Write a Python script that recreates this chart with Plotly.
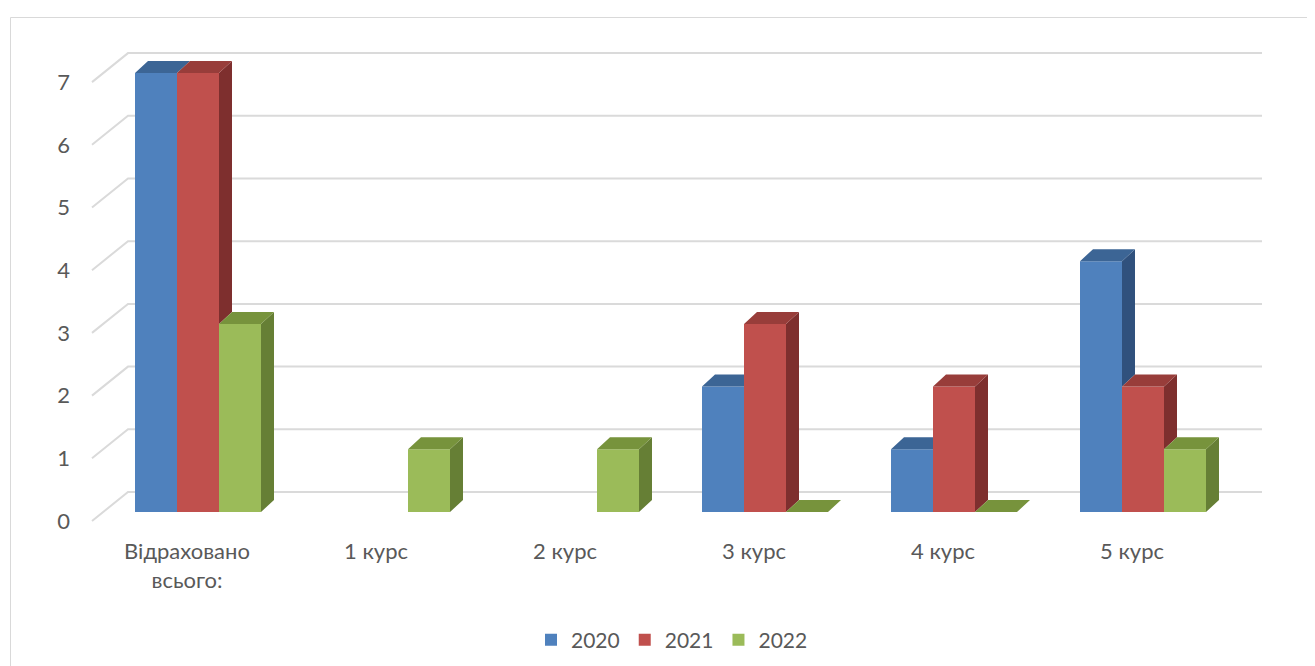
import plotly.graph_objects as go

# ---- data ----
categories = ["Відраховано<br>всього:", "1 курс", "2 курс", "3 курс", "4 курс", "5 курс"]
years = ["2020", "2021", "2022"]
values_2020 = [7, None, None, 2, 1, 4]
values_2021 = [7, None, None, 3, 2, 2]
values_2022 = [3, 1, 1, 0, 0, 1]
y_ticks = [0, 1, 2, 3, 4, 5, 6, 7]

series = [values_2020, values_2021, values_2022]
front_colors = ["#4F81BD", "#C0504D", "#9BBB59"]
top_colors = ["#3C6595", "#983D3A", "#77933C"]
side_colors = ["#30517D", "#7E2F2E", "#667F35"]

# page body margin offset (px) -> figure is drawn 8px right/down of the window origin
OFF = 8
W, H = 1315 - OFF, 666 - OFF
# plot area in window pixels
PL, PR, PT, PB = 80, 1280, 40, 530
ML, MT = PL - OFF, PT - OFF
MR, MB = W - (PR - OFF), H - (PB - OFF)

# pixel mapping of the bar plane (window px), used to convert 3D depth offsets
PX0, PXU = 198.0, 189.0
PY0, PYU = 512.0, 62.7
xr = [(PL - PX0) / PXU, (PR - PX0) / PXU]
yr = [(PY0 - PB) / PYU, (PY0 - PT) / PYU]

DX = 13 / PXU      # bar depth offset (category units)
DY = 12 / PYU      # bar depth offset (value units)
BACK_DY = 20 / PYU  # back wall offset
FRONT_DY = -9 / PYU
FRONT_X = (92 - PX0) / PXU
BACK_X0 = (128 - PX0) / PXU
BACK_X1 = (1262 - PX0) / PXU

bargap = 1 / 3
bw = (1 - bargap) / len(series)

fig = go.Figure()

# front faces
for s, vals in enumerate(series):
    fig.add_trace(go.Bar(x=list(range(len(categories))), y=vals, name=years[s],
                         marker=dict(color=front_colors[s], line=dict(width=0))))

# top and side faces
for s, vals in enumerate(series):
    tx, ty, sx, sy = [], [], [], []
    for k, v in enumerate(vals):
        if v is None:
            continue
        x0 = k - 0.5 + bargap / 2 + s * bw
        x1 = x0 + bw
        nxt = series[s + 1][k] if s + 1 < len(series) else None
        w = nxt if nxt is not None else 0
        if nxt is not None and nxt > v:
            tx += [x0, x1, x1, x0 + DX, x0, None]
            ty += [v, v, v + DY, v + DY, v, None]
        else:
            tx += [x0, x1, x1 + DX, x0 + DX, x0, None]
            ty += [v, v, v + DY, v + DY, v, None]
        if v > w:
            sx += [x1, x1, x1 + DX, x1 + DX, x1, None]
            sy += [w, v, v + DY, w + DY, w, None]
    fig.add_trace(go.Scatter(x=sx, y=sy, mode="lines", fill="toself", fillcolor=side_colors[s],
                             line=dict(width=0, color=side_colors[s]), hoverinfo="skip", showlegend=False))
    fig.add_trace(go.Scatter(x=tx, y=ty, mode="lines", fill="toself", fillcolor=top_colors[s],
                             line=dict(width=0, color=top_colors[s]), hoverinfo="skip", showlegend=False))

pw, ph = W - ML - MR, H - MT - MB
def px2paper_x(px):
    return (px - PL) / pw
def px2paper_y(py):
    return (PB - py) / ph

shapes = []
for t in y_ticks:
    shapes.append(dict(type="path", xref="x", yref="y", layer="below",
                       path="M %f,%f L %f,%f L %f,%f" % (FRONT_X, t + FRONT_DY, BACK_X0, t + BACK_DY,
                                                         BACK_X1, t + BACK_DY),
                       line=dict(color="#DADADA", width=2)))
shapes.append(dict(type="path", xref="paper", yref="paper", layer="below",
                   path="M %f %f L %f %f L %f %f" % (px2paper_x(10.5), px2paper_y(700),
                                                     px2paper_x(10.5), px2paper_y(17.5),
                                                     px2paper_x(1400), px2paper_y(17.5)),
                   line=dict(color="#D9D9D9", width=1)))

font = dict(family="Lato, Carlito, Calibri, sans-serif", size=22, color="#595959")

fig.update_layout(
    width=W, height=H,
    margin=dict(l=ML, r=MR, t=MT, b=MB, autoexpand=False),
    paper_bgcolor="white", plot_bgcolor="white",
    barmode="group", bargap=bargap, bargroupgap=0,
    font=font,
    showlegend=True,
    legend=dict(orientation="h", x=px2paper_x(672), xanchor="center", y=px2paper_y(640), yanchor="middle",
                font=dict(family=font["family"], size=21, color=font["color"]),
                traceorder="normal", itemwidth=30),
    xaxis=dict(range=xr, showgrid=False, zeroline=False, showline=False, ticks="", automargin=False,
               tickvals=[k - 11 / PXU for k in range(len(categories))], ticktext=categories,
               tickangle=0, tickfont=font, ticklabelstandoff=6, fixedrange=True),
    yaxis=dict(range=yr, showgrid=False, zeroline=False, showline=False, ticks="", automargin=False,
               tickvals=[t + FRONT_DY for t in y_ticks], ticktext=[str(t) for t in y_ticks],
               tickfont=font, ticklabelstandoff=9, fixedrange=True),
    shapes=shapes,
)

fig.write_html("out.html")
